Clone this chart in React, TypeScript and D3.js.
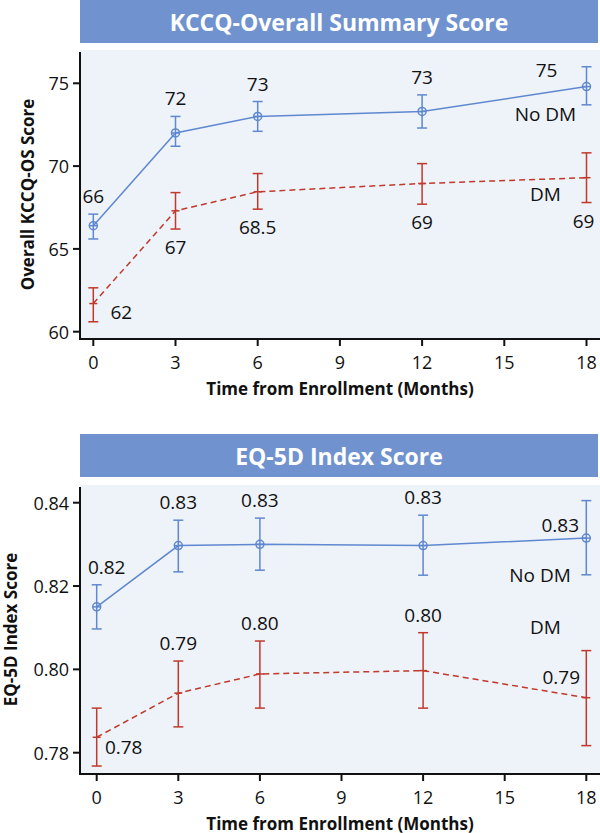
import React from "react";
import * as d3 from "d3";

// ---- data ----
const months = [0, 3, 6, 12, 18];
const xTicks = [0, 3, 6, 9, 12, 15, 18];

const kccqNoDM = [66.4, 72.0, 73.0, 73.3, 74.8];
const kccqNoDMLow = [65.6, 71.2, 72.1, 72.3, 73.7];
const kccqNoDMHigh = [67.1, 73.0, 73.9, 74.3, 76.0];
const kccqNoDMText = ["66", "72", "73", "73", "75"];

const kccqDM = [61.7, 67.3, 68.45, 68.95, 69.3];
const kccqDMLow = [60.6, 66.2, 67.4, 67.7, 67.8];
const kccqDMHigh = [62.65, 68.4, 69.55, 70.15, 70.8];
const kccqDMText = ["62", "67", "68.5", "69", "69"];
const kccqTicks = [60, 65, 70, 75];

const eqNoDM = [0.815, 0.8297, 0.83, 0.8297, 0.8315];
const eqNoDMLow = [0.8097, 0.8234, 0.8238, 0.8226, 0.8227];
const eqNoDMHigh = [0.8203, 0.8358, 0.8363, 0.837, 0.8405];
const eqNoDMText = ["0.82", "0.83", "0.83", "0.83", "0.83"];

const eqDM = [0.7837, 0.7943, 0.7989, 0.7997, 0.7932];
const eqDMLow = [0.7768, 0.7862, 0.7907, 0.7907, 0.7817];
const eqDMHigh = [0.7907, 0.802, 0.8068, 0.8088, 0.8045];
const eqDMText = ["0.78", "0.79", "0.80", "0.80", "0.79"];
const eqTicks = [0.78, 0.8, 0.82, 0.84];

// ---- layout / style ----
type Place = { mode: "above" | "below" | "at"; dx: number; dy: number };
const A = (dx = 0): Place => ({ mode: "above", dx, dy: 0 });
const B = (dx = 0): Place => ({ mode: "below", dx, dy: 0 });
const P = (dx: number, dy: number): Place => ({ mode: "at", dx, dy });

const BLUE = "#5f88d0";
const RED = "#c0392b";
const TITLE_BG = "#7093cf";
const PLOT_BG = "#eef2f9";
const FONT = "'Open Sans', 'Noto Sans', sans-serif";

type Series = {
  mean: number[];
  low: number[];
  high: number[];
  text: string[];
  place: Place[];
  color: string;
  dashed: boolean;
  circle: boolean;
  name: string;
  nameAt: [number, number];
};

type PanelProps = {
  title: string;
  yTitle: string;
  yTitleX: number;
  titleTop: number;
  plotTop: number;
  axisBottom: number;
  yDomain: [number, number];
  yRange: [number, number];
  xRange: [number, number];
  yTicks: number[];
  yFmt: (v: number) => string;
  series: Series[];
};

function Panel(p: PanelProps) {
  const x = d3.scaleLinear().domain([0, 18]).range(p.xRange);
  const y = d3.scaleLinear().domain(p.yDomain).range(p.yRange);
  const left = 80;
  const right = 598;
  const line = d3
    .line<number>()
    .x((_, i) => x(months[i]))
    .y((d) => y(d));
  return (
    <g>
      <rect x={left} y={p.titleTop} width={right - left} height={43} fill={TITLE_BG} />
      <text
        x={(left + right) / 2}
        y={p.titleTop + 22}
        textAnchor="middle"
        dominantBaseline="central"
        fill="#fff"
        fontWeight="bold"
        fontSize={23}
        fontFamily={FONT}
      >
        {p.title}
      </text>
      <rect x={left} y={p.plotTop} width={600 - left} height={p.axisBottom - p.plotTop} fill={PLOT_BG} />
      {p.series.map((s, si) => (
        <g key={si}>
          <path
            d={line(s.mean) || ""}
            fill="none"
            stroke={s.color}
            strokeWidth={1.5}
            strokeDasharray={s.dashed ? "6,4" : undefined}
          />
          {s.mean.map((m, i) => {
            const cx = x(months[i]);
            return (
              <g key={i} stroke={s.color} strokeWidth={1.5} fill="none">
                <line x1={cx} x2={cx} y1={y(s.low[i])} y2={y(s.high[i])} />
                <line x1={cx - 5} x2={cx + 5} y1={y(s.low[i])} y2={y(s.low[i])} />
                <line x1={cx - 5} x2={cx + 5} y1={y(s.high[i])} y2={y(s.high[i])} />
                <line x1={cx - 4} x2={cx + 4} y1={y(m)} y2={y(m)} />
                {s.circle && <circle cx={cx} cy={y(m)} r={4} />}
              </g>
            );
          })}
          {s.text.map((t, i) => {
            const pl = s.place[i];
            const cx = x(months[i]) + pl.dx;
            const cy =
              pl.mode === "above"
                ? y(s.high[i]) - 18
                : pl.mode === "below"
                ? y(s.low[i]) + 18
                : y(s.mean[i]) + pl.dy;
            return (
              <text
                key={i}
                x={cx}
                y={cy}
                textAnchor="middle"
                dominantBaseline="central"
                fontSize={19}
                fontFamily={FONT}
                fill="#111"
              >
                {t}
              </text>
            );
          })}
          <text
            x={x(s.nameAt[0])}
            y={y(s.nameAt[1])}
            textAnchor="middle"
            dominantBaseline="central"
            fontSize={19}
            fontFamily={FONT}
            fill="#111"
          >
            {s.name}
          </text>
        </g>
      ))}
      {/* axes */}
      <line x1={left} x2={left} y1={p.plotTop + 2} y2={p.axisBottom} stroke="#111" strokeWidth={2} />
      <line x1={left - 1} x2={600} y1={p.axisBottom} y2={p.axisBottom} stroke="#111" strokeWidth={2} />
      {p.yTicks.map((t) => (
        <g key={t}>
          <line x1={left - 7} x2={left} y1={y(t)} y2={y(t)} stroke="#111" strokeWidth={2} />
          <text
            x={left - 11}
            y={y(t)}
            textAnchor="end"
            dominantBaseline="central"
            fontSize={18}
            fontFamily={FONT}
            fill="#111"
          >
            {p.yFmt(t)}
          </text>
        </g>
      ))}
      {xTicks.map((t) => (
        <g key={t}>
          <line x1={x(t)} x2={x(t)} y1={p.axisBottom} y2={p.axisBottom + 7} stroke="#111" strokeWidth={2} />
          <text
            x={x(t)}
            y={p.axisBottom + 23}
            textAnchor="middle"
            dominantBaseline="central"
            fontSize={18}
            fontFamily={FONT}
            fill="#111"
          >
            {t}
          </text>
        </g>
      ))}
      <text
        x={340}
        y={p.axisBottom + 49}
        textAnchor="middle"
        dominantBaseline="central"
        fontSize={17}
        fontWeight="bold"
        fontFamily={FONT}
        fill="#111"
      >
        Time from Enrollment (Months)
      </text>
      <text
        transform={`translate(${p.yTitleX},${(p.plotTop + p.axisBottom) / 2}) rotate(-90)`}
        textAnchor="middle"
        dominantBaseline="central"
        fontSize={17}
        fontWeight="bold"
        fontFamily={FONT}
        fill="#111"
      >
        {p.yTitle}
      </text>
    </g>
  );
}

export default function App() {
  return (
    <svg
      width={600}
      height={833}
      style={{ position: "absolute", left: 0, top: 0, background: "#fff" }}
    >
      <Panel
        title="KCCQ-Overall Summary Score"
        yTitle="Overall KCCQ-OS Score"
        yTitleX={27}
        titleTop={0}
        plotTop={50}
        axisBottom={339}
        yDomain={[60, 75]}
        yRange={[331.7, 83.3]}
        xRange={[93.3, 586.5]}
        yTicks={kccqTicks}
        yFmt={(v) => d3.format("d")(v)}
        series={[
          {
            mean: kccqNoDM,
            low: kccqNoDMLow,
            high: kccqNoDMHigh,
            text: kccqNoDMText,
            place: [A(), A(), A(), A(), P(-40, -17)],
            color: BLUE,
            dashed: false,
            circle: true,
            name: "No DM",
            nameAt: [16.5, 73.15],
          },
          {
            mean: kccqDM,
            low: kccqDMLow,
            high: kccqDMHigh,
            text: kccqDMText,
            place: [P(28, 8), B(), B(), B(), B(-3)],
            color: RED,
            dashed: true,
            circle: false,
            name: "DM",
            nameAt: [16.5, 68.3],
          },
        ]}
      />
      <Panel
        title="EQ-5D Index Score"
        yTitle="EQ-5D Index Score"
        yTitleX={10}
        titleTop={434}
        plotTop={485}
        axisBottom={774}
        yDomain={[0.78, 0.84]}
        yRange={[752.7, 502.7]}
        xRange={[96.7, 586.3]}
        yTicks={eqTicks}
        yFmt={(v) => d3.format(".2f")(v)}
        series={[
          {
            mean: eqNoDM,
            low: eqNoDMLow,
            high: eqNoDMHigh,
            text: eqNoDMText,
            place: [A(10), A(), A(), A(), P(-26, -13)],
            color: BLUE,
            dashed: false,
            circle: true,
            name: "No DM",
            nameAt: [16.3, 0.8226],
          },
          {
            mean: eqDM,
            low: eqDMLow,
            high: eqDMHigh,
            text: eqDMText,
            place: [P(27, 10), A(), A(), A(), P(-25, -21)],
            color: RED,
            dashed: true,
            circle: false,
            name: "DM",
            nameAt: [16.5, 0.8102],
          },
        ]}
      />
    </svg>
  );
}
